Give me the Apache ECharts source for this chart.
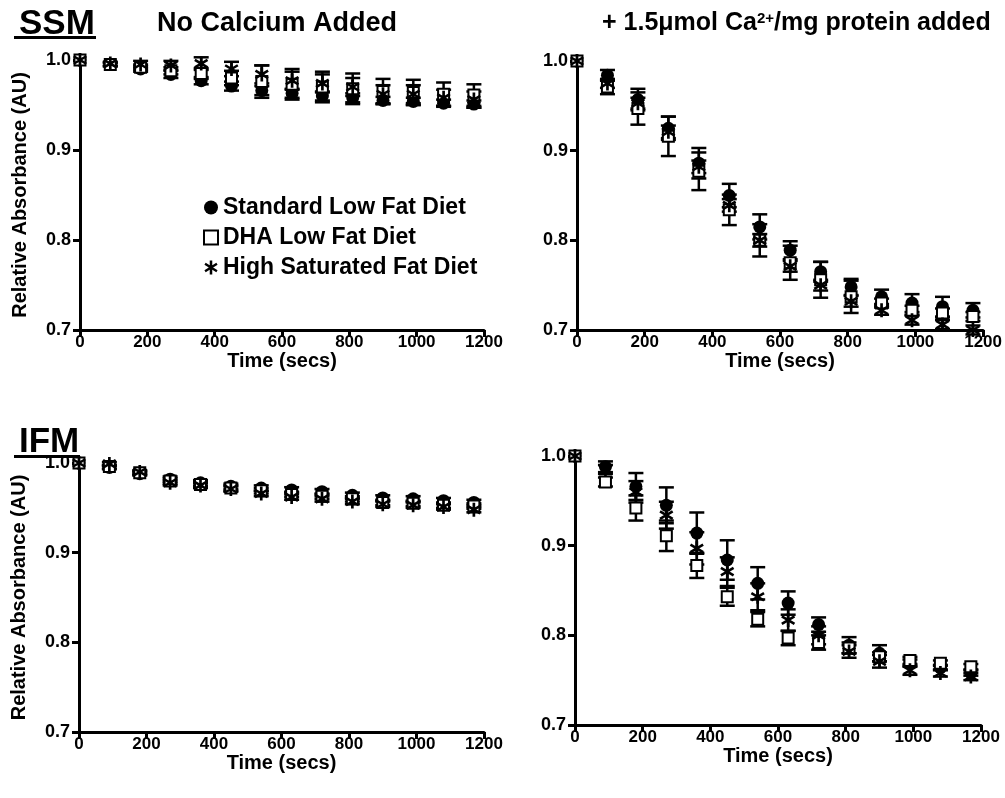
<!DOCTYPE html>
<html><head><meta charset="utf-8">
<script src="https://cdn.jsdelivr.net/npm/echarts@6/dist/echarts.min.js"></script>
<style>html,body{margin:0;padding:0;background:#fff}#c{width:1005px;height:798px}</style>
</head><body><div id="c"></div>
<script>
// ---- data ----
const times = [0,90,180,270,360,450,540,630,720,810,900,990,1080,1170];
const seriesNames = ['Standard Low Fat Diet','DHA Low Fat Diet','High Saturated Fat Diet'];
const xTicks = [0,200,400,600,800,1000,1200];
const yTicks = [0.7,0.8,0.9,1.0];

// SSM, no calcium
const ssmNoCa_std = [1.0,0.995,0.99,0.984,0.977,0.971,0.966,0.963,0.96,0.958,0.955,0.954,0.952,0.951];
const ssmNoCa_dha = [1.0,0.995,0.992,0.988,0.985,0.98,0.976,0.973,0.97,0.968,0.965,0.964,0.962,0.961];
const ssmNoCa_hsf = [1.0,0.996,0.995,0.994,0.996,0.99,0.984,0.977,0.974,0.97,0.962,0.962,0.958,0.956];
const ssmNoCa_stdErr = [0,0.002,0.003,0.004,0.004,0.005,0.005,0.005,0.005,0.005,0.004,0.004,0.004,0.004];
const ssmNoCa_dhaErr = [0,0.002,0.003,0.004,0.006,0.008,0.018,0.017,0.017,0.017,0.014,0.014,0.013,0.012];
const ssmNoCa_hsfErr = [0,0.002,0.004,0.005,0.007,0.008,0.01,0.01,0.01,0.01,0.01,0.01,0.009,0.009];

// SSM, + calcium
const ssmCa_std = [1.0,0.984,0.957,0.925,0.886,0.85,0.815,0.789,0.765,0.748,0.737,0.73,0.726,0.722];
const ssmCa_dha = [1.0,0.971,0.947,0.916,0.877,0.834,0.80,0.775,0.756,0.737,0.73,0.722,0.719,0.715];
const ssmCa_hsf = [1.0,0.975,0.953,0.921,0.882,0.839,0.80,0.771,0.75,0.732,0.722,0.711,0.706,0.70];
const ssmCa_stdErr = [0,0.006,0.012,0.013,0.017,0.013,0.014,0.01,0.011,0.009,0.008,0.01,0.011,0.008];
const ssmCa_dhaErr = [0,0.008,0.018,0.022,0.021,0.017,0.018,0.019,0.02,0.018,0.005,0.005,0.005,0.005];
const ssmCa_hsfErr = [0,0.005,0.006,0.007,0.007,0.007,0.007,0.006,0.006,0.006,0.005,0.005,0.005,0.005];

// IFM, no calcium
const ifmNoCa_std = [1.0,0.995,0.988,0.982,0.978,0.974,0.972,0.97,0.968,0.964,0.961,0.96,0.958,0.956];
const ifmNoCa_dha = [1.0,0.996,0.989,0.98,0.976,0.972,0.969,0.965,0.963,0.96,0.956,0.955,0.953,0.952];
const ifmNoCa_hsf = [1.0,0.999,0.99,0.978,0.975,0.971,0.966,0.962,0.96,0.957,0.954,0.953,0.951,0.948];
const ifmNoCa_stdErr = [0,0.002,0.002,0.003,0.003,0.003,0.003,0.003,0.003,0.003,0.003,0.003,0.003,0.003];
const ifmNoCa_dhaErr = [0,0.002,0.002,0.003,0.003,0.003,0.003,0.003,0.003,0.003,0.003,0.003,0.003,0.003];
const ifmNoCa_hsfErr = [0,0.002,0.002,0.003,0.003,0.003,0.003,0.003,0.003,0.003,0.003,0.003,0.003,0.003];

// IFM, + calcium
const ifmCa_std = [1.0,0.988,0.966,0.945,0.914,0.884,0.858,0.836,0.812,0.789,0.78,0.769,0.764,0.758];
const ifmCa_dha = [1.0,0.971,0.942,0.911,0.878,0.843,0.818,0.797,0.792,0.786,0.776,0.772,0.769,0.765];
const ifmCa_hsf = [1.0,0.985,0.96,0.934,0.897,0.871,0.843,0.817,0.80,0.782,0.771,0.761,0.758,0.754];
const ifmCa_stdErr = [0,0.006,0.015,0.02,0.023,0.022,0.018,0.013,0.008,0.009,0.009,0.004,0.003,0.003];
const ifmCa_dhaErr = [0,0.005,0.014,0.017,0.014,0.01,0.008,0.008,0.008,0.006,0.005,0.004,0.003,0.003];
const ifmCa_hsfErr = [0,0.005,0.012,0.015,0.018,0.016,0.015,0.012,0.01,0.007,0.007,0.005,0.004,0.004];

// ---- chart ----
const FONT = 'Liberation Sans';
const starPath = 'path://M41 0 L59 0 L59 100 L41 100 Z M88 15.6 L97 31.2 L12 84.4 L3 68.8 Z M3 31.2 L12 15.6 L97 68.8 L88 84.4 Z';
const symbols = [
  {symbol:'circle', symbolSize:13, itemStyle:{color:'#000', opacity:1}},
  {symbol:'rect', symbolSize:11, itemStyle:{color:'#fff', borderColor:'#000', borderWidth:2, opacity:1}},
  {symbol:starPath, symbolSize:14, itemStyle:{color:'#000', opacity:1}}
];
const panels = [
  {means:[ssmNoCa_std,ssmNoCa_dha,ssmNoCa_hsf], errs:[ssmNoCa_stdErr,ssmNoCa_dhaErr,ssmNoCa_hsfErr], yName:true},
  {means:[ssmCa_std,ssmCa_dha,ssmCa_hsf], errs:[ssmCa_stdErr,ssmCa_dhaErr,ssmCa_hsfErr], yName:false},
  {means:[ifmNoCa_std,ifmNoCa_dha,ifmNoCa_hsf], errs:[ifmNoCa_stdErr,ifmNoCa_dhaErr,ifmNoCa_hsfErr], yName:true},
  {means:[ifmCa_std,ifmCa_dha,ifmCa_hsf], errs:[ifmCa_stdErr,ifmCa_dhaErr,ifmCa_hsfErr], yName:false}
];
const grids = [
  {left:80, top:60, width:404, height:270},
  {left:577, top:61, width:407, height:269},
  {left:79, top:463, width:405, height:269},
  {left:575, top:456, width:406, height:269}
];

function errRender(params, api) {
  const x = api.value(0), lo = api.value(1), hi = api.value(2);
  const a = api.coord([x, hi]), b = api.coord([x, lo]);
  const w = 7.5, st = {stroke:'#000', lineWidth:2.5};
  return {type:'group', children:[
    {type:'line', shape:{x1:a[0],y1:a[1],x2:b[0],y2:b[1]}, style:st},
    {type:'line', shape:{x1:a[0]-w,y1:a[1],x2:a[0]+w,y2:a[1]}, style:st},
    {type:'line', shape:{x1:b[0]-w,y1:b[1],x2:b[0]+w,y2:b[1]}, style:st}
  ]};
}

const axisCommon = {
  axisLine:{show:true, onZero:false, lineStyle:{color:'#000', width:3}},
  axisTick:{show:true, inside:false, length:7, lineStyle:{color:'#000', width:3}},
  splitLine:{show:false},
  axisLabel:{color:'#000', fontFamily:FONT, fontWeight:'bold', fontSize:18}
};

const xAxis = [], yAxis = [], series = [];
panels.forEach((p, i) => {
  xAxis.push(Object.assign({}, axisCommon, {
    gridIndex:i, type:'value', min:xTicks[0], max:xTicks[xTicks.length-1], interval:200,
    name:'Time (secs)', nameLocation:'middle', nameGap:19,
    nameTextStyle:{color:'#000', fontFamily:FONT, fontWeight:'bold', fontSize:20},
    axisLabel:Object.assign({}, axisCommon.axisLabel, {margin:4, fontSize:17, formatter:v => String(v)})
  }));
  yAxis.push(Object.assign({}, axisCommon, {
    gridIndex:i, type:'value', min:yTicks[0], max:yTicks[yTicks.length-1], interval:0.1,
    name:p.yName ? 'Relative Absorbance (AU)' : '', nameLocation:'middle', nameGap:50,
    nameTextStyle:{color:'#000', fontFamily:FONT, fontWeight:'bold', fontSize:20},
    axisLabel:Object.assign({}, axisCommon.axisLabel, {margin:9, formatter:v => v.toFixed(1)})
  }));
  p.means.forEach((m, k) => {
    const e = p.errs[k];
    const ed = [];
    times.forEach((t, j) => { if (e[j] > 0) ed.push([t, m[j]-e[j], m[j]+e[j]]); });
    series.push({type:'custom', name:'err'+i+'_'+k, xAxisIndex:i, yAxisIndex:i, renderItem:errRender,
      encode:{x:0, y:[1,2]}, data:ed, z:2, clip:false, silent:true});
  });
  p.means.forEach((m, k) => {
    series.push(Object.assign({type:'scatter', name:seriesNames[k], xAxisIndex:i, yAxisIndex:i,
      data:times.map((t, j) => [t, m[j]]), z:3+k, clip:false}, symbols[k]));
  });
});

const chart = echarts.init(document.getElementById('c'), null, {renderer:'canvas'});
chart.setOption({
  animation:false,
  backgroundColor:'#fff',
  grid:grids,
  xAxis, yAxis, series,
  legend:{data:seriesNames, orient:'vertical', left:198, top:191, itemGap:7, itemWidth:14, itemHeight:14,
    selectedMode:false,
    textStyle:{color:'#000', fontFamily:FONT, fontWeight:'bold', fontSize:23}},
  title:[
    {text:'No Calcium Added', left:152, top:5, textStyle:{color:'#000', fontFamily:FONT, fontWeight:'bold', fontSize:27}},
    {text:'+ 1.5μmol Ca{sup|2+}/mg protein added', left:597, top:6,
     textStyle:{color:'#000', fontFamily:FONT, fontWeight:'bold', fontSize:25,
       rich:{sup:{fontFamily:FONT, fontWeight:'bold', fontSize:15, color:'#000', verticalAlign:'top', padding:[0,0,10,0]}}}},
    {text:'SSM', left:14, top:2, textStyle:{color:'#000', fontFamily:FONT, fontWeight:'bold', fontSize:35}},
    {text:'IFM', left:14, top:420, textStyle:{color:'#000', fontFamily:FONT, fontWeight:'bold', fontSize:35}}
  ],
  graphic:[
    {type:'rect', shape:{x:14, y:36, width:82, height:3}, style:{fill:'#000'}},
    {type:'rect', shape:{x:14, y:455, width:66, height:3}, style:{fill:'#000'}}
  ]
});
</script></body></html>
